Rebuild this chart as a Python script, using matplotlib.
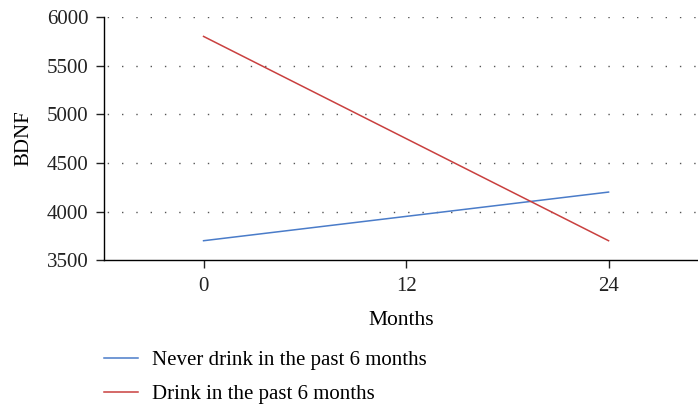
import matplotlib
matplotlib.use("Agg")
import matplotlib.pyplot as plt

months = [0, 24]
never_drink = [3700, 4200]
drink = [5800, 3700]
series_labels = ["Never drink in the past 6 months", "Drink in the past 6 months"]
x_ticks = [0, 12, 24]
y_ticks = [3500, 4000, 4500, 5000, 5500, 6000]

plt.rcParams["font.family"] = ["Liberation Serif", "DejaVu Serif"]

fig = plt.figure(figsize=(6.98, 4.04), dpi=100)
ax = fig.add_axes([0.149, 0.356, 0.851, 0.602])

ax.plot(months, never_drink, color="#4a7cc9", lw=1.1, label=series_labels[0])
ax.plot(months, drink, color="#c9403f", lw=1.1, label=series_labels[1])

ax.set_xlim(-5.9, 29.3)
ax.set_ylim(3500, 6000)
ax.set_xticks(x_ticks)
ax.set_yticks(y_ticks)

# dotted horizontal grid, none on the bottom spine
for y in y_ticks[1:]:
    ax.axhline(y, color="#555555", lw=1.0, ls=(8, (1, 9.3)), zorder=0)

for side in ["top", "right"]:
    ax.spines[side].set_visible(False)
ax.spines["left"].set_linewidth(1.0)
ax.spines["bottom"].set_linewidth(1.0)
ax.tick_params(direction="out", length=6, width=1.0, labelsize=15, colors="#222222")
ax.tick_params(axis="y", pad=5)
ax.tick_params(axis="x", pad=6)

ax.set_xlabel("Months", fontsize=15.5, labelpad=11)
ax.set_ylabel("BDNF", fontsize=15, labelpad=10)

fig.legend(loc="upper left", bbox_to_anchor=(0.149, 0.133), frameon=False,
           fontsize=15, handlelength=1.65, handletextpad=0.65, labelspacing=0.7,
           borderaxespad=0, borderpad=0)

fig.savefig("out.png", dpi=100)
